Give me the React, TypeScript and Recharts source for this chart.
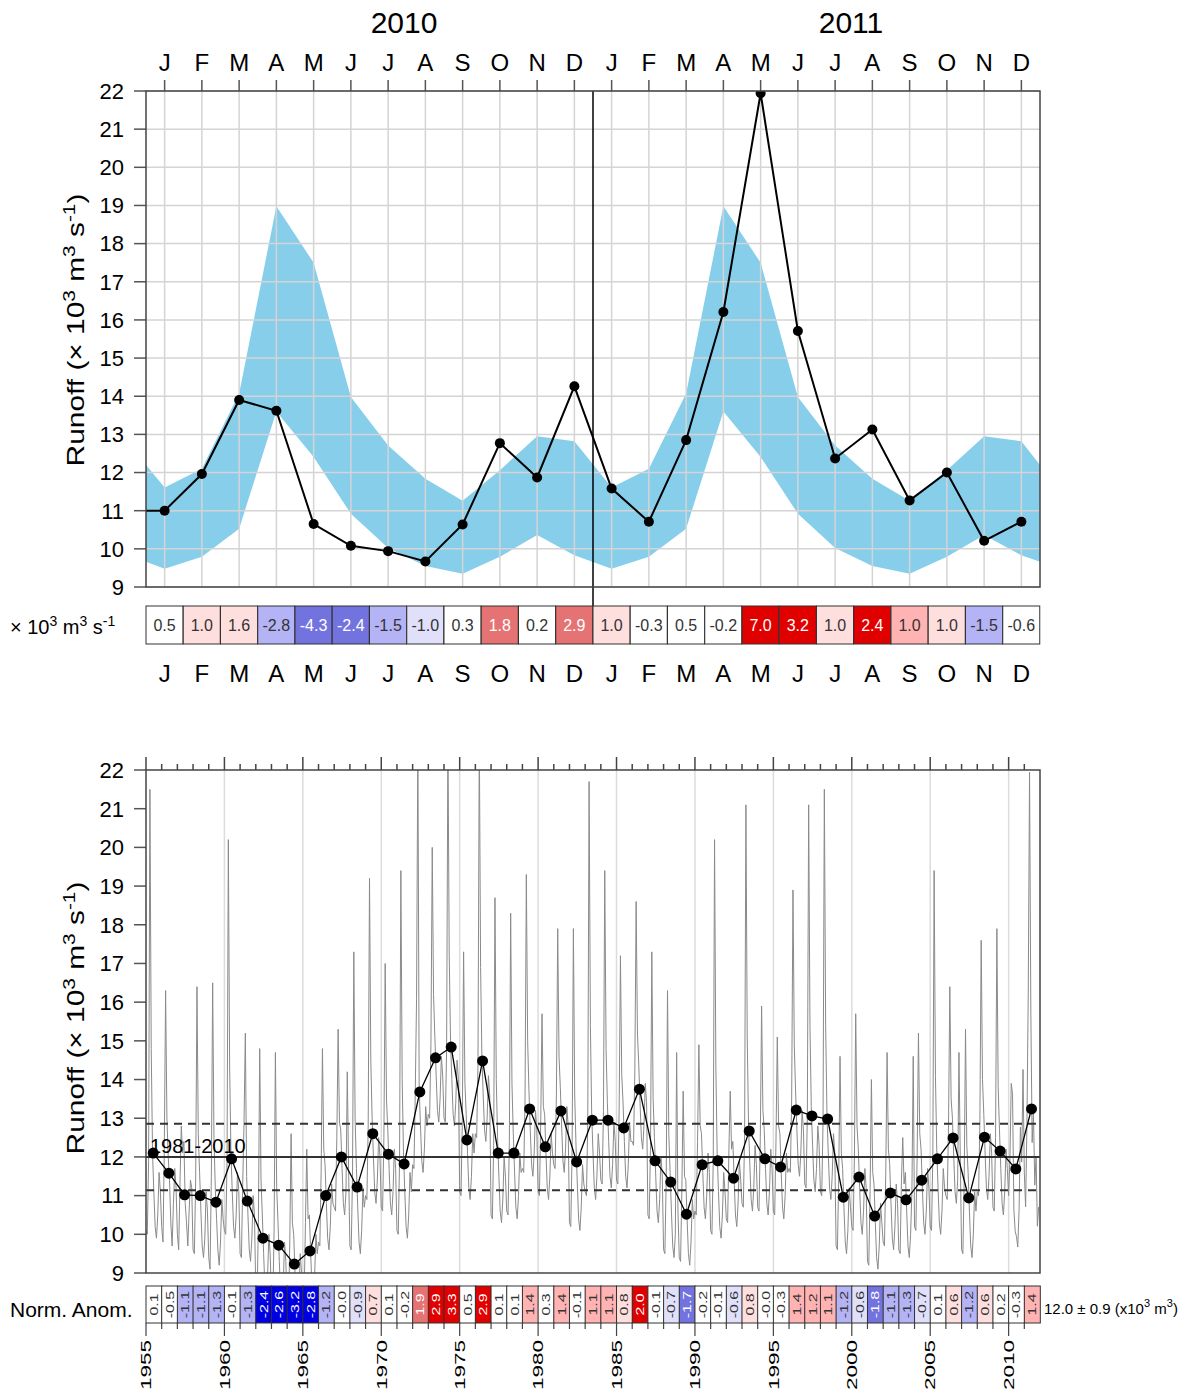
import React from 'react';
import { ComposedChart, BarChart, Bar, Line, Area, XAxis, YAxis, ReferenceLine } from 'recharts';

const FONT = '"Liberation Sans", Arial, Helvetica, sans-serif';

// ---------------- top panel data (2010-2011 monthly) ----------------
const monthLetters = ['J', 'F', 'M', 'A', 'M', 'J', 'J', 'A', 'S', 'O', 'N', 'D'];
const yearTitles = ['2010', '2011'];
const runoff2010_2011 = [
  11.0, 11.96, 13.9, 13.62, 10.65, 10.08, 9.94, 9.67, 10.64, 12.77, 11.87, 14.26,
  11.58, 10.71, 12.85, 16.21, 21.94, 15.71, 12.37, 13.13, 11.27, 12.0, 10.21, 10.71,
];
const runoffDec2009 = 11.0;
const climLow = [9.48, 9.79, 10.53, 13.6, 12.41, 10.92, 10.02, 9.55, 9.35, 9.79, 10.36, 9.83];
const climHigh = [11.61, 12.1, 14.07, 18.98, 17.5, 13.98, 12.71, 11.84, 11.26, 12.06, 12.95, 12.82];
const climLowEdge = 9.66;
const climHighEdge = 12.2;
const monthAnom = [
  0.5, 1.0, 1.6, -2.8, -4.3, -2.4, -1.5, -1.0, 0.3, 1.8, 0.2, 2.9,
  1.0, -0.3, 0.5, -0.2, 7.0, 3.2, 1.0, 2.4, 1.0, 1.0, -1.5, -0.6,
];
const monthAnomClass = [0, 1, 1, -2, -3, -3, -2, -1, 0, 3, 0, 3, 1, 0, 0, 0, 4, 4, 1, 4, 2, 1, -2, 0];
const runoffTicks = [9, 10, 11, 12, 13, 14, 15, 16, 17, 18, 19, 20, 21, 22];

// ---------------- bottom panel data (1955-2011) ----------------
const firstYear = 1955;
const lastYear = 2011;
const annualMean = [
  12.1, 11.58, 11.02, 11.0, 10.83, 11.95, 10.86, 9.9, 9.72, 9.23,
  9.57, 11.0, 12.0, 11.22, 12.6, 12.07, 11.82, 13.68, 14.56, 14.84,
  12.44, 14.48, 12.1, 12.1, 13.24, 12.26, 13.19, 11.87, 12.95, 12.95,
  12.75, 13.75, 11.9, 11.35, 10.52, 11.8, 11.9, 11.45, 12.67, 11.95,
  11.74, 13.21, 13.06, 12.98, 10.96, 11.48, 10.47, 11.07, 10.89, 11.4,
  11.95, 12.49, 10.94, 12.51, 12.15, 11.69, 13.24,
];
const normAnom = [
  0.1, -0.5, -1.1, -1.1, -1.3, -0.1, -1.3, -2.4, -2.6, -3.2,
  -2.8, -1.2, -0, -0.9, 0.7, 0.1, -0.2, 1.9, 2.9, 3.3,
  0.5, 2.9, 0.1, 0.1, 1.4, 0.3, 1.4, -0.1, 1.1, 1.1,
  0.8, 2.0, -0.1, -0.7, -1.7, -0.2, -0.1, -0.6, 0.8, -0,
  -0.3, 1.4, 1.2, 1.1, -1.2, -0.6, -1.8, -1.1, -1.3, -0.7,
  0.1, 0.6, -1.2, 0.6, 0.2, -0.3, 1.4,
];
const baselineMean = 12.0;
const baselineStd = 0.86;
const baselineLabel = '1981-2010';
// monthly runoff 1955-2009 (2010-2011 come from runoff2010_2011)
const monthlyRunoff: number[][] = [
  [10.1, 10.0, 11.9, 21.5, 14.8, 12.1, 11.1, 10.2, 9.9, 10.5, 11.6, 11.1],
  [10.2, 9.8, 12.2, 16.3, 13.0, 12.0, 11.4, 10.3, 9.7, 10.8, 11.7, 11.2],
  [10.0, 9.6, 11.3, 12.8, 12.1, 12.4, 10.8, 10.3, 9.7, 10.6, 11.4, 11.2],
  [9.6, 9.5, 11.4, 16.4, 12.6, 11.6, 10.6, 9.7, 9.4, 9.9, 11.1, 10.6],
  [9.4, 9.1, 11.5, 16.5, 12.5, 11.2, 10.4, 9.6, 9.2, 9.8, 10.9, 10.4],
  [10.1, 10.0, 11.9, 20.2, 14.3, 12.1, 11.1, 10.2, 9.9, 10.5, 11.6, 11.1],
  [9.5, 9.4, 11.3, 12.9, 15.2, 11.5, 10.5, 9.6, 9.3, 9.9, 11.0, 10.5],
  [8.5, 8.4, 10.3, 14.8, 11.4, 10.5, 9.5, 8.6, 8.3, 8.9, 10.0, 9.5],
  [8.3, 8.2, 10.1, 14.7, 11.2, 10.3, 9.3, 8.4, 8.1, 8.7, 9.8, 9.3],
  [8.0, 7.9, 9.8, 12.6, 10.3, 10.0, 9.0, 8.1, 7.8, 8.4, 9.5, 9.0],
  [8.5, 8.4, 10.3, 12.2, 10.4, 10.5, 9.5, 8.6, 8.3, 8.9, 10.0, 9.5],
  [9.8, 9.7, 11.6, 14.8, 12.2, 11.8, 10.8, 9.9, 9.6, 10.2, 11.3, 10.8],
  [10.7, 10.6, 12.5, 15.3, 12.9, 12.7, 11.7, 10.8, 10.5, 11.1, 14.2, 11.7],
  [9.7, 9.6, 11.5, 17.3, 13.0, 11.7, 10.7, 9.8, 9.5, 10.1, 11.2, 10.7],
  [11.0, 10.9, 12.8, 19.2, 14.5, 13.0, 12.0, 11.1, 10.8, 11.4, 12.5, 12.0],
  [10.7, 10.6, 12.5, 17.0, 13.5, 12.7, 11.7, 10.8, 10.5, 11.1, 12.2, 11.7],
  [10.1, 10.0, 11.9, 19.4, 14.0, 12.1, 11.1, 10.2, 9.9, 10.5, 11.6, 11.1],
  [11.8, 11.7, 13.6, 16.1, 22.8, 13.8, 12.8, 11.9, 11.6, 12.2, 13.3, 12.8],
  [13.1, 13.0, 14.9, 20.0, 16.2, 15.1, 14.1, 13.2, 12.9, 13.5, 14.6, 14.1],
  [13.0, 12.9, 14.8, 23.0, 17.2, 15.0, 14.0, 13.1, 12.8, 13.4, 14.5, 14.0],
  [11.1, 11.0, 12.9, 17.3, 13.9, 13.1, 12.1, 11.2, 10.9, 11.5, 12.6, 12.1],
  [12.6, 12.5, 14.4, 23.0, 16.9, 14.6, 13.6, 12.7, 12.4, 13.0, 14.1, 13.6],
  [10.5, 10.4, 12.3, 18.7, 14.0, 12.5, 11.5, 10.6, 10.3, 10.9, 12.0, 11.5],
  [10.6, 10.5, 12.4, 18.3, 13.9, 12.6, 11.6, 10.7, 10.4, 11.0, 12.1, 11.6],
  [11.7, 11.6, 13.5, 19.3, 15.0, 13.7, 12.7, 11.8, 11.5, 12.1, 13.2, 12.7],
  [11.1, 11.0, 12.9, 15.7, 13.3, 13.1, 12.1, 11.2, 10.9, 11.5, 12.6, 12.1],
  [11.8, 11.7, 13.6, 17.9, 14.6, 13.8, 12.8, 11.9, 11.6, 12.2, 13.3, 12.8],
  [10.3, 10.2, 12.1, 17.9, 13.6, 12.3, 11.3, 10.4, 10.1, 10.7, 11.8, 11.3],
  [11.1, 11.0, 12.9, 21.7, 15.4, 13.1, 12.1, 11.2, 10.9, 11.5, 12.6, 12.1],
  [11.4, 11.3, 13.2, 19.4, 14.8, 13.4, 12.4, 11.5, 11.2, 11.8, 12.9, 12.4],
  [11.4, 11.3, 13.2, 17.2, 14.1, 13.4, 12.4, 11.5, 11.2, 11.8, 12.9, 12.4],
  [12.4, 12.3, 14.2, 18.6, 15.2, 14.4, 13.4, 12.5, 12.2, 12.8, 13.9, 13.4],
  [10.5, 10.4, 12.3, 17.3, 13.5, 12.5, 11.5, 10.6, 10.3, 10.9, 12.0, 11.5],
  [9.6, 9.5, 11.4, 16.3, 12.6, 11.6, 10.6, 9.7, 9.4, 10.0, 14.7, 10.6],
  [9.4, 9.3, 11.2, 13.7, 11.5, 11.4, 10.4, 9.5, 9.2, 9.8, 10.9, 10.4],
  [10.6, 10.5, 12.4, 14.9, 12.8, 12.6, 11.6, 10.7, 10.4, 11.0, 12.1, 11.6],
  [10.1, 10.0, 11.9, 20.2, 14.3, 12.1, 11.1, 10.2, 9.9, 10.5, 11.6, 11.1],
  [10.4, 10.3, 12.2, 13.7, 12.2, 12.4, 11.4, 10.5, 10.2, 10.8, 11.9, 11.4],
  [10.8, 10.7, 12.6, 21.1, 15.1, 12.8, 11.8, 10.9, 10.6, 11.2, 12.3, 11.8],
  [10.7, 10.6, 12.5, 15.9, 13.2, 12.7, 11.7, 10.8, 10.5, 11.1, 12.2, 11.7],
  [10.6, 10.5, 12.4, 15.1, 12.8, 12.6, 11.6, 10.7, 10.4, 11.0, 12.1, 11.6],
  [11.7, 11.6, 13.5, 18.9, 14.9, 13.7, 12.7, 11.8, 11.5, 12.1, 13.2, 12.7],
  [11.3, 11.2, 13.1, 21.1, 15.4, 13.3, 12.3, 11.4, 11.1, 11.7, 12.8, 12.3],
  [11.1, 11.0, 12.9, 21.5, 15.4, 13.1, 12.1, 11.2, 10.9, 11.5, 12.6, 12.1],
  [9.7, 9.6, 11.5, 14.6, 12.1, 11.7, 10.7, 9.8, 9.5, 10.1, 11.2, 10.7],
  [10.2, 10.1, 12.0, 15.7, 12.8, 12.2, 11.2, 10.3, 10.0, 10.6, 11.7, 11.2],
  [9.3, 9.2, 11.1, 14.0, 11.6, 11.3, 10.3, 9.4, 9.1, 9.7, 10.8, 10.3],
  [9.8, 9.7, 11.6, 14.7, 12.2, 11.8, 10.8, 9.9, 9.6, 10.2, 11.3, 10.8],
  [9.6, 9.5, 11.4, 12.5, 11.3, 11.6, 10.6, 9.7, 9.4, 10.0, 11.1, 14.6],
  [10.2, 10.1, 12.0, 15.2, 12.6, 12.2, 11.2, 10.3, 10.0, 10.6, 11.7, 11.2],
  [10.2, 10.1, 12.0, 19.4, 14.1, 12.2, 11.2, 10.3, 10.0, 10.6, 11.7, 11.2],
  [11.0, 10.9, 12.8, 16.4, 13.5, 13.0, 12.0, 11.1, 10.8, 11.4, 14.7, 12.0],
  [9.6, 9.5, 11.4, 15.3, 12.3, 11.6, 10.6, 9.7, 9.4, 10.0, 11.1, 10.6],
  [11.1, 11.0, 12.9, 17.6, 14.0, 13.1, 12.1, 11.2, 10.9, 11.5, 12.6, 12.1],
  [10.7, 10.6, 12.5, 17.9, 13.8, 12.7, 11.7, 10.8, 10.5, 11.1, 12.2, 11.7],
];
const yearLabelTicks = [1955, 1960, 1965, 1970, 1975, 1980, 1985, 1990, 1995, 2000, 2005, 2010];

// ---------------- helpers ----------------
const classColors: Record<string, string> = {
  '-4': '#0000e0', '-3': '#7373e0', '-2': '#b3b3f5', '-1': '#e0e0fa', '0': '#ffffff',
  '1': '#ffdede', '2': '#ffb3b3', '3': '#e57373', '4': '#e00000',
};
const classOf = (v: number) => {
  const a = Math.abs(v);
  const l = a >= 2 ? 4 : a >= 1.5 ? 3 : a >= 1.0 ? 2 : a > 0.5 ? 1 : 0;
  return v < 0 ? -l : l;
};
const fmt = (v: number) => (Object.is(v, -0) ? '-0.0' : v.toFixed(1));
const monthIdx = runoff2010_2011.map((_, i) => i);
const allYears: number[] = [];
for (let y = firstYear; y <= lastYear; y++) allYears.push(y);

const Sup = ({ t, fs, up }: { t: string; fs: number; up: number }) => null;

const MonthTopTick = (p: any) => (
  <text x={p.x} y={71} textAnchor="middle" fontSize={24} fontFamily={FONT} fill="#000">
    {monthLetters[p.payload.value % 12]}
  </text>
);
const MonthStripTick = (p: any) => (
  <text x={p.x} y={682} textAnchor="middle" fontSize={24} fontFamily={FONT} fill="#000">
    {monthLetters[p.payload.value % 12]}
  </text>
);
const YearTopTick = (p: any) => {
  const major = p.payload.value % 5 === 0;
  return <line x1={p.x} x2={p.x} y1={770} y2={major ? 757 : 764} stroke="#444" strokeWidth={1.5} />;
};
const YearBottomTick = (p: any) => {
  const v = p.payload.value;
  const major = v % 5 === 0;
  return (
    <g>
      <line x1={p.x} x2={p.x} y1={1323} y2={major ? 1336 : 1329} stroke="#444" strokeWidth={1.2} />
      {major && yearLabelTicks.includes(v) ? (
        <g transform={`translate(${p.x},1340) rotate(-90) scale(1.5,1)`}>
          <text x={0} y={0} dy="0.35em" textAnchor="end" fontSize={15} fontFamily={FONT} fill="#000">
            {String(v)}
          </text>
        </g>
      ) : null}
    </g>
  );
};

const renderTopDot = (p: any) =>
  p.payload && p.payload.edge ? (
    <g key={'d' + p.index} />
  ) : (
    <circle key={'d' + p.index} cx={p.cx} cy={p.cy} r={5} fill="#000" />
  );

const TopStripShape = (p: any) => {
  const { x, y, width, height, payload } = p;
  const cls = payload.cls;
  const dark = Math.abs(cls) >= 3;
  return (
    <g>
      <rect x={x} y={y} width={width} height={height} fill={classColors[String(cls)]} stroke="#333" strokeWidth={1} />
      <text x={x + width / 2} y={y + height / 2} dy="0.35em" textAnchor="middle" fontSize={16} fontFamily={FONT} fill={dark ? '#fff' : '#333'}>
        {fmt(payload.a)}
      </text>
    </g>
  );
};
const BottomStripShape = (p: any) => {
  const { x, y, width, height, payload } = p;
  const cls = classOf(payload.a);
  const dark = Math.abs(cls) >= 3;
  const cx = x + width / 2;
  const cy = y + height / 2;
  return (
    <g>
      <rect x={x} y={y} width={width} height={height} fill={classColors[String(cls)]} stroke="#333" strokeWidth={1} />
      <g transform={`translate(${cx},${cy}) rotate(-90) scale(1.45,1)`}>
        <text x={0} y={0} dy="0.35em" textAnchor="middle" fontSize={11} fontFamily={FONT} fill={dark ? '#fff' : '#333'}>
          {fmt(payload.a)}
        </text>
      </g>
    </g>
  );
};

const yTickStyle = { fontSize: 22, fill: '#000', fontFamily: FONT };

function TopPanel() {
  const bandRows = [
    { x: -0.5, lo: climLowEdge, hi: climHighEdge },
    ...monthIdx.map((i) => ({ x: i, lo: climLow[i % 12], hi: climHigh[i % 12] })),
    { x: 23.5, lo: climLowEdge, hi: climHighEdge },
  ];
  const lineRows = [{ x: -0.5, v: runoffDec2009, edge: true }, ...runoff2010_2011.map((v, i) => ({ x: i, v, edge: false }))];
  return (
    <ComposedChart width={1200} height={1393} margin={{ top: 61, right: 160, bottom: 806, left: 86 }}>
      <XAxis dataKey="x" type="number" orientation="top" domain={[-0.5, 23.5]} ticks={monthIdx} interval={0} height={30}
        tickSize={11} tickLine={{ stroke: '#555', strokeWidth: 1.5 }} axisLine={false} tick={MonthTopTick} allowDataOverflow />
      <YAxis type="number" domain={[9, 22]} ticks={runoffTicks} interval={0} width={60} tickSize={12} tickMargin={10}
        tickLine={{ stroke: '#555', strokeWidth: 1.5 }} axisLine={false} tick={yTickStyle} allowDataOverflow />
      <Area data={bandRows} dataKey={(d: any) => [d.lo, d.hi]} type="linear" stroke="none" fill="#87ceeb" fillOpacity={1} isAnimationActive={false} />
      {monthIdx.map((i) => (
        <ReferenceLine key={'gx' + i} x={i} stroke="#d4d4d4" strokeWidth={1.5} />
      ))}
      {runoffTicks.map((t) => (
        <ReferenceLine key={'gy' + t} y={t} stroke="#d4d4d4" strokeWidth={1.5} />
      ))}
      <ReferenceLine segment={[{ x: 11.5, y: 22 }, { x: 11.5, y: 8.5 }]} stroke="#000" strokeWidth={1.5} ifOverflow="visible" />
      <Line data={lineRows} dataKey="v" type="linear" stroke="#000" strokeWidth={2} dot={renderTopDot} activeDot={false} isAnimationActive={false} />
    </ComposedChart>
  );
}

function TopStrip() {
  const rows = monthAnom.map((a, i) => ({ i, one: 1, a, cls: monthAnomClass[i] }));
  return (
    <BarChart width={1200} height={1393} data={rows} margin={{ top: 606, right: 160, bottom: 719, left: 146 }} barCategoryGap={0} barGap={0}>
      <XAxis dataKey="i" type="category" height={30} tickLine={false} axisLine={false} tick={MonthStripTick} interval={0} />
      <YAxis hide domain={[0, 1]} />
      <Bar dataKey="one" shape={TopStripShape} isAnimationActive={false} />
    </BarChart>
  );
}

function BottomPanel() {
  const monthlyRows: { x: number; v: number }[] = [];
  allYears.forEach((yr, k) => {
    const vals = k < monthlyRunoff.length ? monthlyRunoff[k] : runoff2010_2011.slice((k - monthlyRunoff.length) * 12, (k - monthlyRunoff.length) * 12 + 12);
    vals.forEach((v, m) => monthlyRows.push({ x: yr + m / 12, v }));
  });
  const annualRows = annualMean.map((v, k) => ({ x: firstYear + k + 5.5 / 12, v }));
  const gridYears = yearLabelTicks.filter((y) => y > firstYear);
  return (
    <ComposedChart width={1200} height={1393} margin={{ top: 740, right: 160, bottom: 120, left: 86 }}>
      <XAxis dataKey="x" type="number" orientation="top" domain={[firstYear, lastYear + 1]} ticks={allYears} interval={0} height={30}
        tickLine={false} axisLine={false} tick={YearTopTick} allowDataOverflow />
      <YAxis type="number" domain={[9, 22]} ticks={runoffTicks} interval={0} width={60} tickSize={12} tickMargin={10}
        tickLine={{ stroke: '#555', strokeWidth: 1.5 }} axisLine={false} tick={yTickStyle} allowDataOverflow />
      {gridYears.map((y) => (
        <ReferenceLine key={'g' + y} x={y} stroke="#dcdcdc" strokeWidth={1.5} />
      ))}
      <Line data={monthlyRows} dataKey="v" type="linear" stroke="#8a8a8a" strokeWidth={1} dot={false} activeDot={false} isAnimationActive={false} />
      <ReferenceLine y={baselineMean} stroke="#333" strokeWidth={2} />
      <ReferenceLine y={baselineMean + baselineStd} stroke="#333" strokeWidth={2} strokeDasharray="8 6" />
      <ReferenceLine y={baselineMean - baselineStd} stroke="#333" strokeWidth={2} strokeDasharray="8 6" />
      <Line data={annualRows} dataKey="v" type="linear" stroke="#000" strokeWidth={1.3} dot={{ r: 5.5, fill: '#000', stroke: 'none' }} activeDot={false} isAnimationActive={false} />
    </ComposedChart>
  );
}

function BottomStrip() {
  const rows = normAnom.map((a, k) => ({ yr: firstYear + k, one: 1, a }));
  return (
    <BarChart width={1200} height={1393} data={rows} margin={{ top: 1286, right: 160, bottom: 10, left: 146 }} barCategoryGap={0} barGap={0}>
      <XAxis xAxisId="cat" dataKey="yr" type="category" hide />
      <XAxis xAxisId="num" dataKey="yr" type="number" domain={[firstYear, lastYear + 1]} ticks={allYears} interval={0} height={60}
        tickLine={false} axisLine={false} tick={YearBottomTick} allowDataOverflow />
      <YAxis hide domain={[0, 1]} />
      <Bar xAxisId="cat" dataKey="one" shape={BottomStripShape} isAnimationActive={false} />
    </BarChart>
  );
}

const RunoffLabel = ({ cx, cy }: { cx: number; cy: number }) => (
  <g transform={`translate(${cx},${cy}) rotate(-90) scale(1.3,1)`}>
    <text x={0} y={0} textAnchor="middle" fontSize={23} fontFamily={FONT} fill="#000">
      Runoff (× 10<tspan dy={-9} fontSize={16}>3</tspan>
      <tspan dy={9}> m</tspan>
      <tspan dy={-9} fontSize={16}>3</tspan>
      <tspan dy={9}> s</tspan>
      <tspan dy={-9} fontSize={16}>-1</tspan>
      <tspan dy={9}>)</tspan>
    </text>
  </g>
);

const abs: React.CSSProperties = { position: 'absolute', left: 0, top: 0 };

export default function App() {
  return (
    <div style={{ position: 'absolute', left: 0, top: 0, width: 1200, height: 1393, background: '#fff', fontFamily: FONT }}>
      <div style={abs}><TopPanel /></div>
      <div style={abs}><TopStrip /></div>
      <div style={abs}><BottomPanel /></div>
      <div style={abs}><BottomStrip /></div>
      <svg width={1200} height={1393} style={{ ...abs, pointerEvents: 'none' }}>
        <rect x={146} y={91} width={894} height={496} fill="none" stroke="#444" strokeWidth={1.5} />
        <rect x={146} y={770} width={894} height={503} fill="none" stroke="#444" strokeWidth={1.5} />
        <text x={404} y={33} textAnchor="middle" fontSize={30} fontFamily={FONT} fill="#000">{yearTitles[0]}</text>
        <text x={851} y={33} textAnchor="middle" fontSize={30} fontFamily={FONT} fill="#000">{yearTitles[1]}</text>
        <RunoffLabel cx={84} cy={330} />
        <RunoffLabel cx={84} cy={1018} />
        <text x={10} y={634} fontSize={20} fontFamily={FONT} fill="#000">
          × 10<tspan dy={-8} fontSize={14}>3</tspan>
          <tspan dy={8}> m</tspan>
          <tspan dy={-8} fontSize={14}>3</tspan>
          <tspan dy={8}> s</tspan>
          <tspan dy={-8} fontSize={14}>-1</tspan>
        </text>
        <text x={10} y={1317} fontSize={21} fontFamily={FONT} fill="#000">Norm. Anom.</text>
        <text x={1044} y={1314} fontSize={15} fontFamily={FONT} fill="#000">
          12.0 ± 0.9 (x10<tspan dy={-7} fontSize={11}>3</tspan>
          <tspan dy={7}> m</tspan>
          <tspan dy={-7} fontSize={11}>3</tspan>
          <tspan dy={7}>)</tspan>
        </text>
        <text x={150} y={1153} fontSize={20} fontFamily={FONT} fill="#000">{baselineLabel}</text>
      </svg>
    </div>
  );
}
